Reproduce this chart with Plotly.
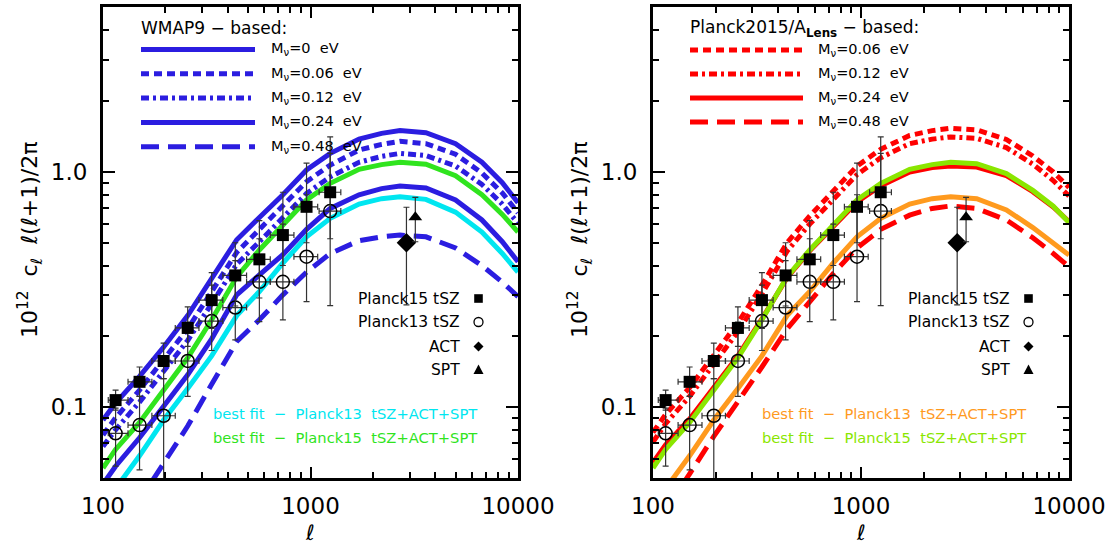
import plotly.graph_objects as go

W, H = 1112, 547
FONT = "DejaVu Sans"

# ---------------- model curves (multipole grid and C_l l(l+1)/2pi x 1e12) ----------------
ell_grid = [100, 115, 150, 196, 256, 334, 441, 567, 736, 957, 1245, 1714,
            2200, 2700, 3600, 5000, 6700, 8400, 10000]

# WMAP9-based predictions
wmap_m000 = [0.088, 0.104, 0.135, 0.180, 0.245, 0.350, 0.515, 0.640, 0.800, 1.020,
             1.200, 1.380, 1.460, 1.500, 1.470, 1.320, 1.100, 0.900, 0.740]
wmap_m006 = [0.076, 0.090, 0.118, 0.158, 0.215, 0.310, 0.455, 0.570, 0.715, 0.910,
             1.070, 1.240, 1.310, 1.350, 1.320, 1.190, 0.990, 0.815, 0.670]
wmap_m012 = [0.068, 0.080, 0.105, 0.141, 0.192, 0.275, 0.405, 0.505, 0.635, 0.810,
             0.955, 1.100, 1.165, 1.200, 1.175, 1.060, 0.885, 0.730, 0.605]
wmap_m024 = [0.047, 0.056, 0.074, 0.100, 0.137, 0.195, 0.300, 0.365, 0.445, 0.570,
             0.700, 0.800, 0.850, 0.872, 0.855, 0.760, 0.625, 0.505, 0.415]
wmap_m048 = [0.026, 0.031, 0.040, 0.058, 0.083, 0.125, 0.190, 0.235, 0.300, 0.375,
             0.450, 0.510, 0.530, 0.539, 0.530, 0.475, 0.400, 0.340, 0.295]
# best fits within the WMAP9-based model
wmap_fit_p15 = [0.055, 0.066, 0.086, 0.118, 0.162, 0.235, 0.358, 0.466, 0.595, 0.760,
                0.895, 1.027, 1.075, 1.100, 1.080, 0.965, 0.800, 0.660, 0.555]
wmap_fit_p13 = [0.037, 0.045, 0.062, 0.088, 0.120, 0.165, 0.245, 0.310, 0.410, 0.530,
                0.635, 0.730, 0.770, 0.785, 0.765, 0.675, 0.555, 0.450, 0.375]

# Planck2015/A_Lens-based predictions
planck_m006 = [0.078, 0.093, 0.121, 0.166, 0.228, 0.330, 0.500, 0.650, 0.830, 1.060,
               1.250, 1.430, 1.500, 1.535, 1.510, 1.375, 1.170, 1.000, 0.860]
planck_m012 = [0.071, 0.085, 0.111, 0.152, 0.209, 0.303, 0.460, 0.600, 0.765, 0.975,
               1.150, 1.320, 1.380, 1.410, 1.390, 1.270, 1.080, 0.920, 0.790]
planck_m024 = [0.058, 0.069, 0.089, 0.121, 0.165, 0.237, 0.355, 0.462, 0.585, 0.745,
               0.875, 1.000, 1.045, 1.060, 1.050, 0.965, 0.825, 0.710, 0.615]
planck_m048 = [0.030, 0.036, 0.052, 0.075, 0.105, 0.148, 0.215, 0.280, 0.370, 0.475,
               0.570, 0.655, 0.700, 0.717, 0.700, 0.625, 0.525, 0.450, 0.395]
# best fits within the Planck2015/A_Lens-based model
lens_fit_p15 = [0.055, 0.066, 0.086, 0.118, 0.162, 0.235, 0.358, 0.466, 0.595, 0.760,
                0.895, 1.027, 1.075, 1.100, 1.085, 0.985, 0.835, 0.715, 0.610]
lens_fit_p13 = [0.037, 0.045, 0.062, 0.088, 0.120, 0.165, 0.245, 0.310, 0.410, 0.530,
                0.635, 0.730, 0.770, 0.785, 0.770, 0.690, 0.580, 0.500, 0.443]

# ---------------- measurements ----------------
ell_bins = [115, 150, 196, 256, 334, 434, 567, 736, 957, 1244]
ell_edge_lo = [106, 132, 172, 223, 290, 378, 492, 640, 832, 1100]
ell_edge_hi = [132, 172, 223, 290, 378, 492, 640, 832, 1083, 1400]

planck15_tsz = [0.107, 0.128, 0.157, 0.217, 0.285, 0.363, 0.425, 0.539, 0.711, 0.820]
planck15_lo = [0.097, 0.111, 0.132, 0.181, 0.216, 0.269, 0.291, 0.400, 0.500, 0.520]
planck15_hi = [0.118, 0.148, 0.187, 0.267, 0.373, 0.500, 0.621, 0.820, 1.090, 1.410]

planck13_tsz = [0.0773, 0.0838, 0.0918, 0.157, 0.232, 0.265, 0.341, 0.341, 0.436, 0.682]
planck13_lo = [0.056, 0.054, 0.030, 0.111, 0.174, 0.193, 0.231, 0.235, 0.281, 0.270]
planck13_hi = [0.099, 0.111, 0.132, 0.230, 0.330, 0.420, 0.520, 0.600, 0.800, 1.200]

act_ell, act_val, act_lo, act_hi = [2900], [0.50], [0.272], [0.708]
spt_ell, spt_val, spt_lo, spt_hi = [3200], [0.642], [0.505], [0.780]

# ---------------- styles ----------------
BLUE = "#2b1de0"
GREEN_L = "#30e41e"
CYAN = "#00e6f0"
GREEN_R = "#8ae600"
ORANGE = "#ff9a1e"
RED = "#ff0000"
DASH_S = "8px,5px"
DASH_DD = "8px,4px,3px,4px"
DASH_L = "18px,9px"
ERR_COL = "#333333"

# panel geometry (paper units)
XDOM = [[103 / W, 518 / W], [653 / W, 1069 / W]]
YDOM = [69 / H, 540 / H]


def px(x):
    return x / W


def py(y):
    return 1 - y / H


fig = go.Figure()


def curve(xa, ya, y, color, dash="solid", width=5):
    fig.add_trace(go.Scatter(x=ell_grid, y=y, mode="lines", xaxis=xa, yaxis=ya,
                             line=dict(color=color, width=width, dash=dash),
                             showlegend=False, hoverinfo="skip"))


def points(xa, ya, xs, ys, lo, hi, symbol, size, xlo=None, xhi=None, line_w=0):
    err_x = None
    if xlo is not None:
        err_x = dict(type="data", symmetric=False,
                     array=[h - x for x, h in zip(xs, xhi)],
                     arrayminus=[x - l for x, l in zip(xs, xlo)],
                     color=ERR_COL, thickness=1.2, width=3)
    fig.add_trace(go.Scatter(
        x=xs, y=ys, mode="markers", xaxis=xa, yaxis=ya,
        marker=dict(symbol=symbol, size=size, color="black",
                    line=dict(color="black", width=line_w)),
        error_y=dict(type="data", symmetric=False,
                     array=[h - v for v, h in zip(ys, hi)],
                     arrayminus=[v - l for v, l in zip(ys, lo)],
                     color=ERR_COL, thickness=1.2, width=3),
        error_x=err_x, showlegend=False, hoverinfo="skip"))


def data_points(xa, ya):
    points(xa, ya, ell_bins, planck13_tsz, planck13_lo, planck13_hi, "circle-open", 13,
           ell_edge_lo, ell_edge_hi, line_w=1.5)
    points(xa, ya, ell_bins, planck15_tsz, planck15_lo, planck15_hi, "square", 12,
           ell_edge_lo, ell_edge_hi)
    points(xa, ya, act_ell, act_val, act_lo, act_hi, "diamond", 15)
    points(xa, ya, spt_ell, spt_val, spt_lo, spt_hi, "triangle-up", 12)


# left panel: WMAP9-based
curve("x", "y", wmap_fit_p13, CYAN)
curve("x", "y", wmap_fit_p15, GREEN_L)
curve("x", "y", wmap_m048, BLUE, DASH_L)
curve("x", "y", wmap_m024, BLUE)
curve("x", "y", wmap_m012, BLUE, DASH_DD)
curve("x", "y", wmap_m006, BLUE, DASH_S)
curve("x", "y", wmap_m000, BLUE)
data_points("x", "y")

# right panel: Planck2015/A_Lens-based
curve("x2", "y2", lens_fit_p13, ORANGE)
curve("x2", "y2", planck_m048, RED, DASH_L)
curve("x2", "y2", planck_m024, RED)
curve("x2", "y2", lens_fit_p15, GREEN_R)
curve("x2", "y2", planck_m012, RED, DASH_DD)
curve("x2", "y2", planck_m006, RED, DASH_S)
data_points("x2", "y2")

# ---------------- axes ----------------
x_major = [100, 1000, 10000]
x_minor = [m * d for d in (100, 1000) for m in range(2, 10)]
y_major = [0.1, 1.0]
y_minor = [0.06, 0.07, 0.08, 0.09, 0.2, 0.3, 0.4, 0.5, 0.6, 0.7, 0.8, 0.9, 2, 3, 4, 5]

axis_common = dict(type="log", showline=True, linecolor="black", linewidth=3,
                   mirror="ticks", ticks="inside", tickwidth=2, tickcolor="black",
                   showgrid=False, zeroline=False, automargin=False,
                   tickfont=dict(family=FONT, size=23, color="black"))

for i in (0, 1):
    sx = "" if i == 0 else "2"
    fig.layout["xaxis" + sx] = dict(
        axis_common, domain=XDOM[i], range=[2, 4], anchor="y" + sx,
        tickmode="array", tickvals=x_major, ticktext=["100", "1000", "10000"],
        ticklen=11, ticklabelstandoff=5,
        minor=dict(tickmode="array", tickvals=x_minor, ticks="inside", ticklen=6,
                   tickwidth=2, tickcolor="black", showgrid=False))
    fig.layout["yaxis" + sx] = dict(
        axis_common, domain=YDOM, range=[-1.302, 0.702], anchor="x" + sx,
        tickmode="array", tickvals=y_major, ticktext=["0.1", "1.0"],
        ticklen=12, ticklabelstandoff=8,
        minor=dict(tickmode="array", tickvals=y_minor, ticks="inside", ticklen=6,
                   tickwidth=2, tickcolor="black", showgrid=False))

# ---------------- annotations & legend keys ----------------
ann = []
shapes = []


def text(x, y, s, size=15, color="black", anchor="left", angle=0):
    ann.append(dict(x=px(x), y=py(y), xref="paper", yref="paper", text=s,
                    showarrow=False, xanchor=anchor, yanchor="middle",
                    textangle=angle, font=dict(family=FONT, size=size, color=color)))


def key_line(x0, x1, y, color, dash):
    shapes.append(dict(type="line", xref="paper", yref="paper",
                       x0=px(x0), x1=px(x1), y0=py(y), y1=py(y),
                       line=dict(color=color, width=5, dash=dash)))


# left legend
text(139, 28, "WMAP9 − based:", size=17)
left_keys = [("M<sub>ν</sub>=0  eV", "solid"), ("M<sub>ν</sub>=0.06  eV", DASH_S),
             ("M<sub>ν</sub>=0.12  eV", DASH_DD), ("M<sub>ν</sub>=0.24  eV", "solid"),
             ("M<sub>ν</sub>=0.48  eV", DASH_L)]
for k, (lab, dash) in enumerate(left_keys):
    yy = 49.5 + 24.3 * k
    key_line(141, 255, yy, BLUE, dash)
    text(269, yy, lab, size=14.5)

# right legend
text(688, 28, "Planck2015/A<sub><b>Lens</b></sub> − based:", size=17)
right_keys = [("M<sub>ν</sub>=0.06  eV", DASH_S), ("M<sub>ν</sub>=0.12  eV", DASH_DD),
              ("M<sub>ν</sub>=0.24  eV", "solid"), ("M<sub>ν</sub>=0.48  eV", DASH_L)]
for k, (lab, dash) in enumerate(right_keys):
    yy = 50 + 24 * k
    key_line(690, 803, yy, RED, dash)
    text(816, yy, lab, size=14.5)

# symbol keys
for off in (0, 550):
    tx, mx = 462 + off, 478.5 + off
    rows = [("Planck15 tSZ", 298.5), ("Planck13 tSZ", 322), ("ACT", 346.5), ("SPT", 370)]
    for lab, yy in rows:
        text(tx, yy, lab, size=15.5, anchor="right")
    s = 4.3
    shapes.append(dict(type="rect", xref="paper", yref="paper", x0=px(mx - s), x1=px(mx + s),
                       y0=py(298.5 + s), y1=py(298.5 - s), fillcolor="black", line_width=0))
    shapes.append(dict(type="circle", xref="paper", yref="paper", x0=px(mx - 4.5), x1=px(mx + 4.5),
                       y0=py(322 + 4.5), y1=py(322 - 4.5), line=dict(color="black", width=1.3)))
    d = 5
    shapes.append(dict(type="path", xref="paper", yref="paper", fillcolor="black", line_width=0,
                       path=f"M {px(mx)},{py(346.5 - d)} L {px(mx + d)},{py(346.5)} "
                            f"L {px(mx)},{py(346.5 + d)} L {px(mx - d)},{py(346.5)} Z"))
    shapes.append(dict(type="path", xref="paper", yref="paper", fillcolor="black", line_width=0,
                       path=f"M {px(mx)},{py(370 - 5.5)} L {px(mx + 5)},{py(370 + 4)} "
                            f"L {px(mx - 5)},{py(370 + 4)} Z"))

# best-fit labels
text(210.5, 413.5, "best fit  −  Planck13  tSZ+ACT+SPT", size=14.7, color=CYAN)
text(210.5, 437.5, "best fit  −  Planck15  tSZ+ACT+SPT", size=14.7, color=GREEN_L)
text(759.5, 413.5, "best fit  −  Planck13  tSZ+ACT+SPT", size=14.7, color=ORANGE)
text(759.5, 437.5, "best fit  −  Planck15  tSZ+ACT+SPT", size=14.7, color=GREEN_R)

# axis titles
ytitle = "10<sup>12</sup>  c<sub>ℓ</sub>  ℓ(ℓ+1)/2π"
text(30, 240, ytitle, size=22, anchor="center", angle=-90)
text(580, 240, ytitle, size=22, anchor="center", angle=-90)
text(310, 533, "<i>ℓ</i>", size=21, anchor="center")
text(861, 533, "<i>ℓ</i>", size=21, anchor="center")

fig.update_layout(width=W, height=H, margin=dict(l=0, r=0, t=0, b=0, pad=0), autosize=False,
                  paper_bgcolor="white", plot_bgcolor="white",
                  annotations=ann, shapes=shapes, showlegend=False)

fig.write_html("out.html")
